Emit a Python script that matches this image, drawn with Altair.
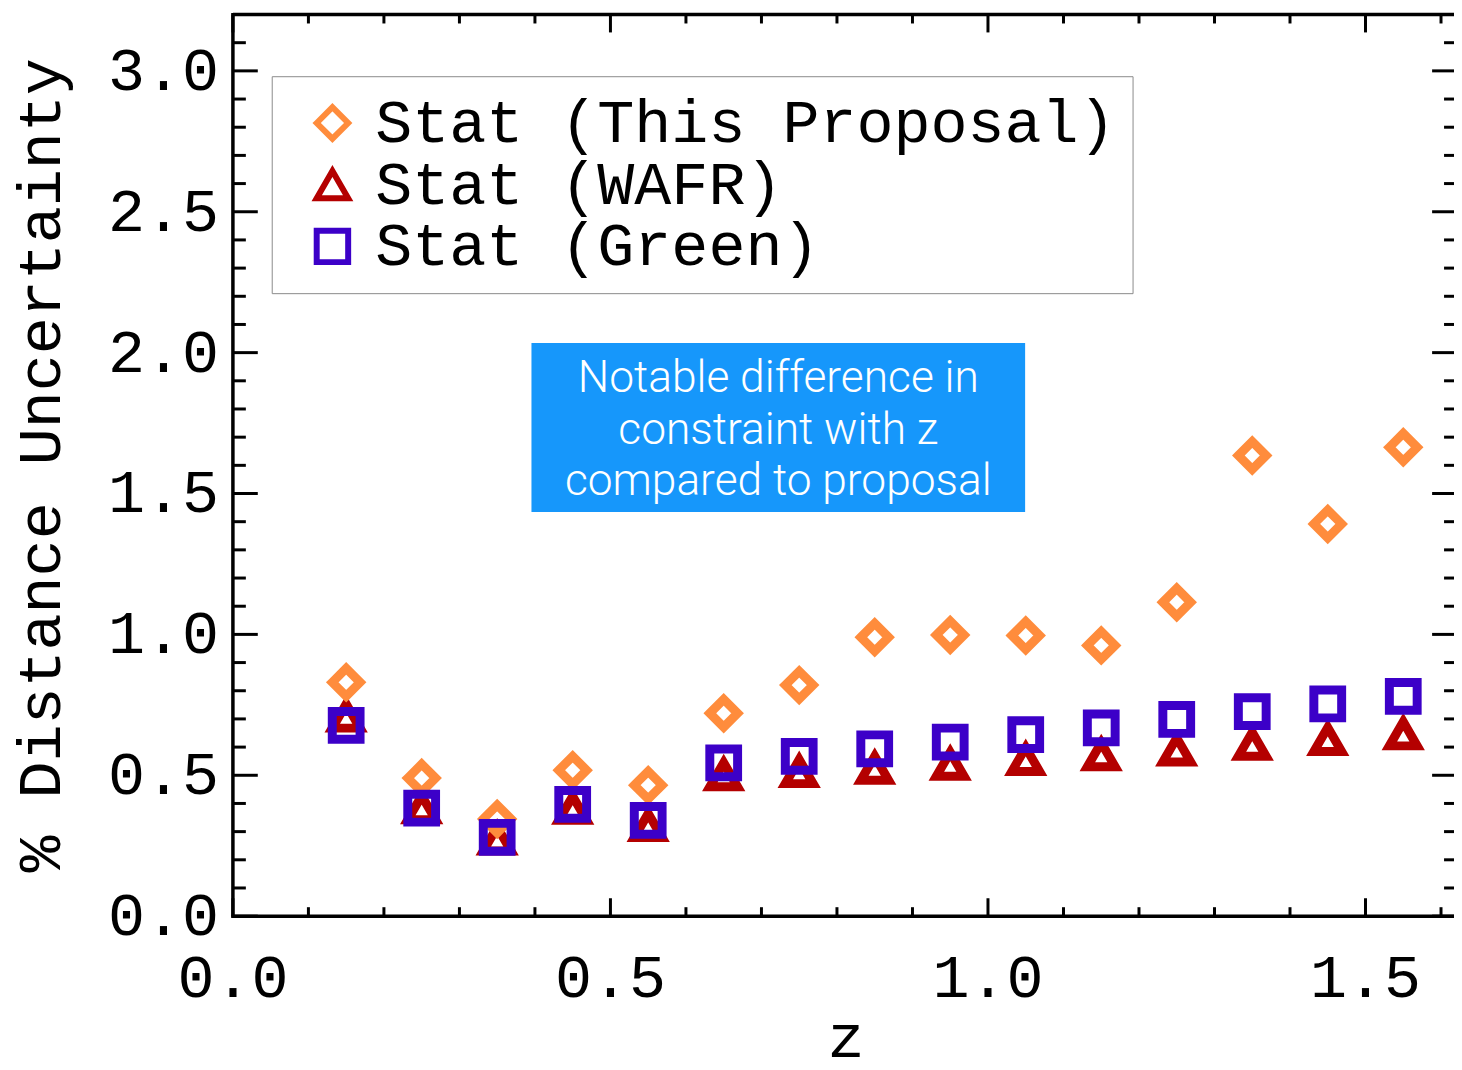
import altair as alt
import pandas as pd

# ---------------- data ----------------
z = [0.15, 0.25, 0.35, 0.45, 0.55, 0.65, 0.75, 0.85, 0.95, 1.05, 1.15, 1.25, 1.35, 1.45, 1.55]
stat_proposal = [0.83, 0.49, 0.345, 0.518, 0.465, 0.72, 0.82, 0.99, 0.998, 0.996, 0.961, 1.114, 1.635, 1.392, 1.664]
stat_wafr = [0.71, 0.385, 0.274, 0.383, 0.322, 0.502, 0.513, 0.525, 0.539, 0.556, 0.573, 0.590, 0.610, 0.627, 0.647]
stat_green = [0.677, 0.383, 0.280, 0.397, 0.340, 0.544, 0.567, 0.594, 0.618, 0.644, 0.668, 0.698, 0.726, 0.753, 0.780]

series_names = ["Stat (This Proposal)", "Stat (WAFR)", "Stat (Green)"]
series_colors = ["#FF8C3C", "#B40000", "#3C00C8"]
series_shapes = ["diamond", "triangle-up", "square"]

x_major = [0.0, 0.5, 1.0, 1.5]
x_major_labels = ["0.0", "0.5", "1.0", "1.5"]
y_major = [0.0, 0.5, 1.0, 1.5, 2.0, 2.5, 3.0]
y_major_labels = ["0.0", "0.5", "1.0", "1.5", "2.0", "2.5", "3.0"]
x_minor = [0.1, 0.2, 0.3, 0.4, 0.6, 0.7, 0.8, 0.9, 1.1, 1.2, 1.3, 1.4, 1.6]
y_minor = [0.1, 0.2, 0.3, 0.4, 0.6, 0.7, 0.8, 0.9, 1.1, 1.2, 1.3, 1.4, 1.6, 1.7, 1.8, 1.9,
           2.1, 2.2, 2.3, 2.4, 2.6, 2.7, 2.8, 2.9, 3.1]

x_title = "z"
y_title = "% Distance Uncertainty"
annotation_lines = ["Notable difference in", "constraint with z", "compared to proposal"]

# ---------------- layout constants ----------------
W, H = 1227, 906
X_MAX, Y_MAX = 1.6172, 3.2
FRAME_RIGHT = 1230
MONO = "Liberation Mono"
FS = 62

# annotation box placement (data units)
box = pd.DataFrame({"x1": [0.3954], "x2": [1.0492], "y1": [1.434], "y2": [2.0346]})
ann = pd.DataFrame({"text": annotation_lines, "x": [0.7223] * 3, "y": [1.859, 1.677, 1.494]})

rows = []
for name, vals in [(series_names[1], stat_wafr), (series_names[0], stat_proposal), (series_names[2], stat_green)]:
    for zz, v in zip(z, vals):
        rows.append({"z": zz, "v": v, "series": name})
pts = pd.DataFrame(rows)

xs = alt.Scale(domain=[0, X_MAX], nice=False, zero=False)
ys = alt.Scale(domain=[0, Y_MAX], nice=False, zero=False)

legend = alt.Legend(
    title=None, orient="none", legendX=39, legendY=62, padding=16,
    strokeColor="#8a8a8a", fillColor="white",
    symbolSize=1000, symbolStrokeWidth=6, symbolOffset=14, labelOffset=12,
    labelFont=MONO, labelFontSize=FS, labelColor="black", labelLimit=2000, rowPadding=0,
)

points = alt.Chart(pts).mark_point(filled=False, strokeWidth=9, size=780, opacity=1).encode(
    x=alt.X("z:Q", scale=xs, axis=None),
    y=alt.Y("v:Q", scale=ys, axis=None),
    color=alt.Color("series:N", scale=alt.Scale(domain=series_names, range=series_colors), legend=legend),
    shape=alt.Shape("series:N", scale=alt.Scale(domain=series_names, range=series_shapes), legend=legend),
)

rect = alt.Chart(box).mark_rect(color="#1697FB").encode(
    x=alt.X("x1:Q", scale=xs, axis=None), x2="x2",
    y=alt.Y("y1:Q", scale=ys, axis=None), y2="y2",
)

text = alt.Chart(ann).mark_text(font="Roboto", fontSize=44.5, fontWeight=300, color="white",
                                align="center", baseline="alphabetic").encode(
    x=alt.X("x:Q", scale=xs, axis=None),
    y=alt.Y("y:Q", scale=ys, axis=None),
    text="text:N",
)


def xticks(vals, length):
    d = pd.DataFrame({"t": vals})
    base = alt.Chart(d).mark_rule(color="black", strokeWidth=3)
    bottom = base.encode(x=alt.X("t:Q", scale=xs, axis=None), y=alt.value(H), y2=alt.value(H - length))
    top = base.encode(x=alt.X("t:Q", scale=xs, axis=None), y=alt.value(0), y2=alt.value(length))
    return [bottom, top]


def yticks(vals, length):
    d = pd.DataFrame({"t": vals})
    base = alt.Chart(d).mark_rule(color="black", strokeWidth=3)
    left = base.encode(y=alt.Y("t:Q", scale=ys, axis=None), x=alt.value(0), x2=alt.value(length))
    right = base.encode(y=alt.Y("t:Q", scale=ys, axis=None), x=alt.value(FRAME_RIGHT),
                        x2=alt.value(FRAME_RIGHT - length))
    return [left, right]


one = pd.DataFrame({"a": [0]})
frame_top = alt.Chart(one).mark_rule(color="black", strokeWidth=3.5).encode(
    x=alt.value(0), x2=alt.value(FRAME_RIGHT), y=alt.value(0))
frame_bottom = alt.Chart(one).mark_rule(color="black", strokeWidth=3.5).encode(
    x=alt.value(-1.5), x2=alt.value(FRAME_RIGHT), y=alt.value(H))
frame_left = alt.Chart(one).mark_rule(color="black", strokeWidth=3.5).encode(
    x=alt.value(0), y=alt.value(-1.5), y2=alt.value(H + 1.5))

xlab = alt.Chart(pd.DataFrame({"t": x_major, "lab": x_major_labels})).mark_text(
    font=MONO, fontSize=FS, color="black", align="center", baseline="alphabetic").encode(
    x=alt.X("t:Q", scale=xs, axis=None), y=alt.value(H + 81), text="lab:N")

ylab = alt.Chart(pd.DataFrame({"t": y_major, "lab": y_major_labels})).mark_text(
    font=MONO, fontSize=FS, color="black", align="right", baseline="middle").encode(
    y=alt.Y("t:Q", scale=ys, axis=None), x=alt.value(-14), text="lab:N")

xtit = alt.Chart(pd.DataFrame({"lab": [x_title]})).mark_text(
    font=MONO, fontSize=FS, color="black", align="center", baseline="alphabetic").encode(
    x=alt.value(616), y=alt.value(H + 142), text="lab:N")

ytit = alt.Chart(pd.DataFrame({"lab": [y_title]})).mark_text(
    font=MONO, fontSize=FS, color="black", align="center", baseline="alphabetic", angle=270).encode(
    x=alt.value(-174), y=alt.value(H / 2), text="lab:N")

layers = ([rect, text] + xticks(x_major, 18) + xticks(x_minor, 9) + yticks(y_major, 25) + yticks(y_minor, 13)
          + [frame_top, frame_bottom, frame_left, xlab, ylab, xtit, ytit, points])

chart = alt.layer(*layers).properties(
    width=W, height=H,
    autosize=alt.AutoSizeParams(type="none"),
    padding={"left": 226, "top": 4, "right": 0, "bottom": 144},
).configure_view(stroke=None)

chart.save("out.html", embed_options={"renderer": "svg", "actions": False})
